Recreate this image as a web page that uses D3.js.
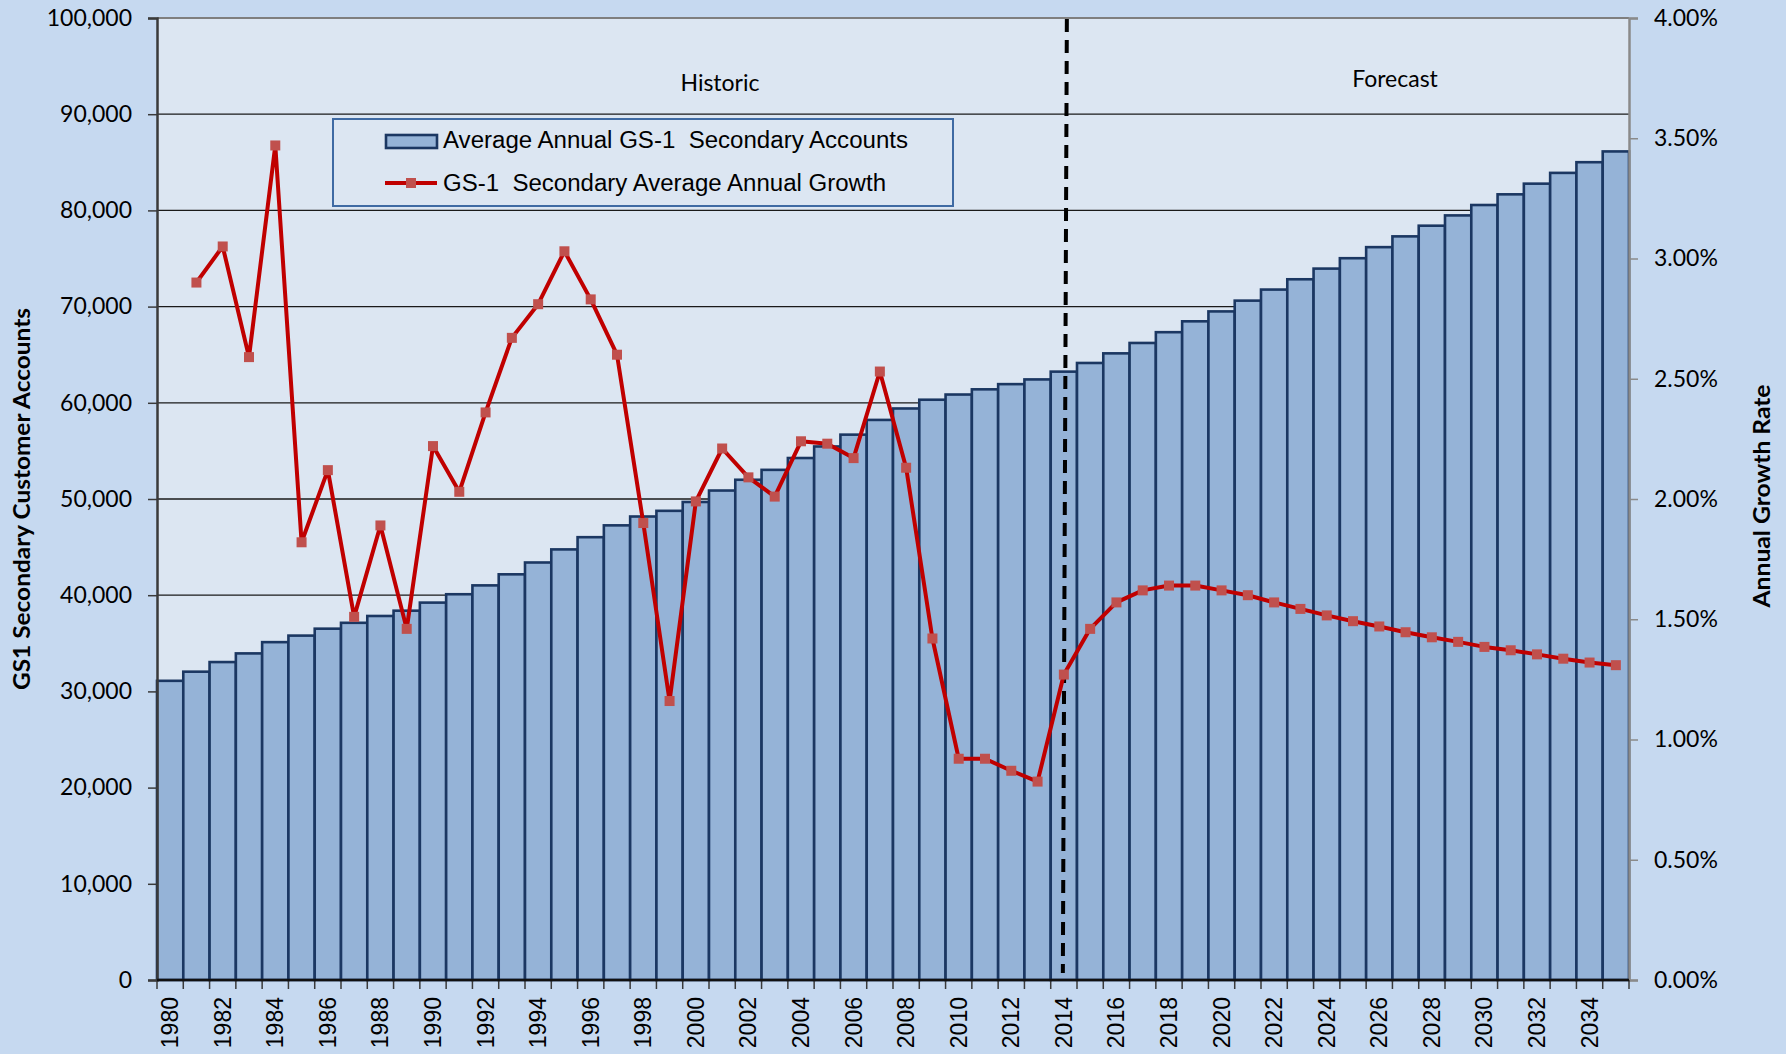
<!DOCTYPE html>
<html>
<head>
<meta charset="utf-8">
<script src="https://cdnjs.cloudflare.com/ajax/libs/d3/7.8.5/d3.min.js"></script>
<style>
  html, body { margin: 0; padding: 0; background: #c6d9f0; }
  svg { display: block; }
  .pre { white-space: pre; }
</style>
</head>
<body>
<svg id="chart" width="1786" height="1054"></svg>
<script>
// ---------- data ----------
const years = ["1980","1981","1982","1983","1984","1985","1986","1987","1988","1989",
  "1990","1991","1992","1993","1994","1995","1996","1997","1998","1999",
  "2000","2001","2002","2003","2004","2005","2006","2007","2008","2009",
  "2010","2011","2012","2013","2014","2015","2016","2017","2018","2019",
  "2020","2021","2022","2023","2024","2025","2026","2027","2028","2029",
  "2030","2031","2032","2033","2034","2035"];

const accounts = [31100, 32050, 33050, 33950, 35120, 35800, 36520, 37130, 37840, 38390,
  39230, 40100, 41020, 42170, 43400, 44760, 46030, 47260, 48180, 48770,
  49690, 50880, 52000, 53030, 54260, 55460, 56690, 58220, 59410, 60320,
  60860, 61400, 61940, 62430, 63240, 64140, 65140, 66220, 67340, 68470,
  69500, 70620, 71770, 72840, 73950, 75030, 76180, 77300, 78410, 79480,
  80560, 81670, 82780, 83900, 85010, 86130];

// annual growth, percent
const growth = [null, 2.90, 3.05, 2.59, 3.47, 1.82, 2.12, 1.51, 1.89, 1.46,
  2.22, 2.03, 2.36, 2.67, 2.81, 3.03, 2.83, 2.60, 1.90, 1.16,
  1.99, 2.21, 2.09, 2.01, 2.24, 2.23, 2.17, 2.53, 2.13, 1.42,
  0.92, 0.92, 0.87, 0.825, 1.27, 1.46, 1.57, 1.62, 1.64, 1.64,
  1.62, 1.60, 1.57, 1.543, 1.516, 1.492, 1.470, 1.446, 1.425, 1.406,
  1.385, 1.371, 1.354, 1.336, 1.320, 1.309];

const leftTicks = [0, 10000, 20000, 30000, 40000, 50000, 60000, 70000, 80000, 90000, 100000];
const rightTicks = [0, 0.5, 1.0, 1.5, 2.0, 2.5, 3.0, 3.5, 4.0];
const xLabelYears = ["1980","1982","1984","1986","1988","1990","1992","1994","1996","1998",
  "2000","2002","2004","2006","2008","2010","2012","2014","2016","2018",
  "2020","2022","2024","2026","2028","2030","2032","2034"];

const seriesBarName = "Average Annual GS-1  Secondary Accounts";
const seriesLineName = "GS-1  Secondary Average Annual Growth";
const leftTitle = "GS1 Secondary Customer Accounts";
const rightTitle = "Annual Growth Rate";
const dividerYear = "2014";

// ---------- layout ----------
const L = 157, R = 1629, T = 18, B = 980;
const svg = d3.select("#chart");

const x = d3.scaleBand().domain(years).range([L, R]).paddingInner(0).paddingOuter(0);
const yL = d3.scaleLinear().domain([0, 100000]).range([B, T]);
const yR = d3.scaleLinear().domain([0, 4]).range([B, T]);

const CAL = "Lato, 'Open Sans', sans-serif";
const ARIAL = "'Liberation Sans', Arial, sans-serif";

// background
svg.append("rect").attr("x", 0).attr("y", 0).attr("width", 1786).attr("height", 1054).attr("fill", "#c6d9f0");
svg.append("rect").attr("x", L).attr("y", T).attr("width", R - L).attr("height", B - T).attr("fill", "#dce6f2");

// gridlines
svg.append("g").selectAll("line").data(leftTicks.filter(d => d > 0 && d < 100000)).join("line")
  .attr("x1", L).attr("x2", R)
  .attr("y1", d => yL(d)).attr("y2", d => yL(d))
  .attr("stroke", "#1a1a1a").attr("stroke-width", 1.3);

// top border
svg.append("line").attr("x1", L).attr("x2", R).attr("y1", T).attr("y2", T)
  .attr("stroke", "#7f7f7f").attr("stroke-width", 2);

// bars
svg.append("g").selectAll("rect").data(years).join("rect")
  .attr("x", d => x(d))
  .attr("y", (d, i) => yL(accounts[i]))
  .attr("width", x.bandwidth())
  .attr("height", (d, i) => yL(0) - yL(accounts[i]))
  .attr("fill", "#95b3d7")
  .attr("stroke", "#1b3762")
  .attr("stroke-width", 2.6);

// divider dashed line
const xd = x(dividerYear) + x.bandwidth() / 2;
svg.append("line")
  .attr("x1", xd + 3).attr("y1", T + 1)
  .attr("x2", xd - 1).attr("y2", B - 7)
  .attr("stroke", "#000").attr("stroke-width", 4)
  .attr("stroke-dasharray", "13,8");

// growth line
const pts = years.map((d, i) => ({ year: d, v: growth[i] })).filter(p => p.v !== null);
const line = d3.line().x(p => x(p.year) + x.bandwidth() / 2).y(p => yR(p.v));
svg.append("path").datum(pts).attr("d", line)
  .attr("fill", "none").attr("stroke", "#c00000").attr("stroke-width", 4)
  .attr("stroke-linejoin", "round");
const ms = 10;
svg.append("g").selectAll("rect").data(pts).join("rect")
  .attr("x", p => x(p.year) + x.bandwidth() / 2 - ms / 2)
  .attr("y", p => yR(p.v) - ms / 2)
  .attr("width", ms).attr("height", ms)
  .attr("fill", "#c0504d");

// left axis
const gL = svg.append("g").attr("transform", `translate(${L},0)`)
  .call(d3.axisLeft(yL).tickValues(leftTicks).tickFormat(d3.format(",")).tickSize(9).tickPadding(16));
gL.select(".domain").attr("stroke", "#3a3a3a").attr("stroke-width", 2.5);
gL.selectAll(".tick line").attr("stroke", "#3a3a3a").attr("stroke-width", 1.5);
gL.selectAll(".tick text").attr("font-family", CAL).attr("font-size", 23).attr("fill", "#000");

// right axis
const gR = svg.append("g").attr("transform", `translate(${R},0)`)
  .call(d3.axisRight(yR).tickValues(rightTicks).tickFormat(d => d.toFixed(2) + "%").tickSize(9).tickPadding(16));
gR.select(".domain").attr("stroke", "#8a8a8a").attr("stroke-width", 2.5);
gR.selectAll(".tick line").attr("stroke", "#8a8a8a").attr("stroke-width", 1.5);
gR.selectAll(".tick text").attr("font-family", CAL).attr("font-size", 23).attr("fill", "#000");

// bottom axis: boundary tick marks
const bounds = years.map(d => x(d)).concat([R]);
svg.append("g").selectAll("line").data(bounds).join("line")
  .attr("x1", d => d).attr("x2", d => d)
  .attr("y1", B).attr("y2", B + 9)
  .attr("stroke", "#3a3a3a").attr("stroke-width", 1.5);
svg.append("line").attr("x1", L).attr("x2", R).attr("y1", B).attr("y2", B)
  .attr("stroke", "#111").attr("stroke-width", 2.5);

// bottom axis labels (rotated)
svg.append("g").selectAll("text").data(xLabelYears).join("text")
  .attr("transform", d => `translate(${x(d) + x.bandwidth() / 2},${B + 17}) rotate(-90)`)
  .attr("text-anchor", "end")
  .attr("dy", "0.35em")
  .attr("font-family", ARIAL).attr("font-size", 23).attr("fill", "#000")
  .text(d => d);

// axis titles
svg.append("text")
  .attr("transform", `translate(30,${(T + B) / 2}) rotate(-90)`)
  .attr("text-anchor", "middle")
  .attr("font-family", CAL).attr("font-weight", "bold").attr("font-size", 22)
  .attr("textLength", 382).attr("lengthAdjust", "spacingAndGlyphs")
  .text(leftTitle);
svg.append("text")
  .attr("transform", `translate(1770,${(T + B) / 2 - 3}) rotate(-90)`)
  .attr("text-anchor", "middle")
  .attr("font-family", CAL).attr("font-weight", "bold").attr("font-size", 22)
  .attr("textLength", 223).attr("lengthAdjust", "spacingAndGlyphs")
  .text(rightTitle);

// period labels
svg.append("text").attr("x", 720).attr("y", 91).attr("text-anchor", "middle")
  .attr("font-family", CAL).attr("font-size", 23).text("Historic");
svg.append("text").attr("x", 1395).attr("y", 87).attr("text-anchor", "middle")
  .attr("font-family", CAL).attr("font-size", 23).text("Forecast");

// legend
const lg = svg.append("g");
lg.append("rect").attr("x", 333).attr("y", 119).attr("width", 620).attr("height", 87)
  .attr("fill", "#dce6f2").attr("stroke", "#3f6aa3").attr("stroke-width", 2);
lg.append("rect").attr("x", 386).attr("y", 135).attr("width", 51).attr("height", 13)
  .attr("fill", "#95b3d7").attr("stroke", "#1b3762").attr("stroke-width", 2.6);
lg.append("text").attr("class", "pre").attr("x", 443).attr("y", 148)
  .attr("font-family", ARIAL).attr("font-size", 23).attr("fill", "#000")
  .attr("textLength", 465).attr("lengthAdjust", "spacingAndGlyphs")
  .text(seriesBarName);
lg.append("line").attr("x1", 385).attr("x2", 437).attr("y1", 183).attr("y2", 183)
  .attr("stroke", "#c00000").attr("stroke-width", 4);
lg.append("rect").attr("x", 411 - ms / 2).attr("y", 183 - ms / 2).attr("width", ms).attr("height", ms)
  .attr("fill", "#c0504d");
lg.append("text").attr("class", "pre").attr("x", 443).attr("y", 191)
  .attr("font-family", ARIAL).attr("font-size", 23).attr("fill", "#000")
  .attr("textLength", 443).attr("lengthAdjust", "spacingAndGlyphs")
  .text(seriesLineName);
</script>
</body>
</html>
